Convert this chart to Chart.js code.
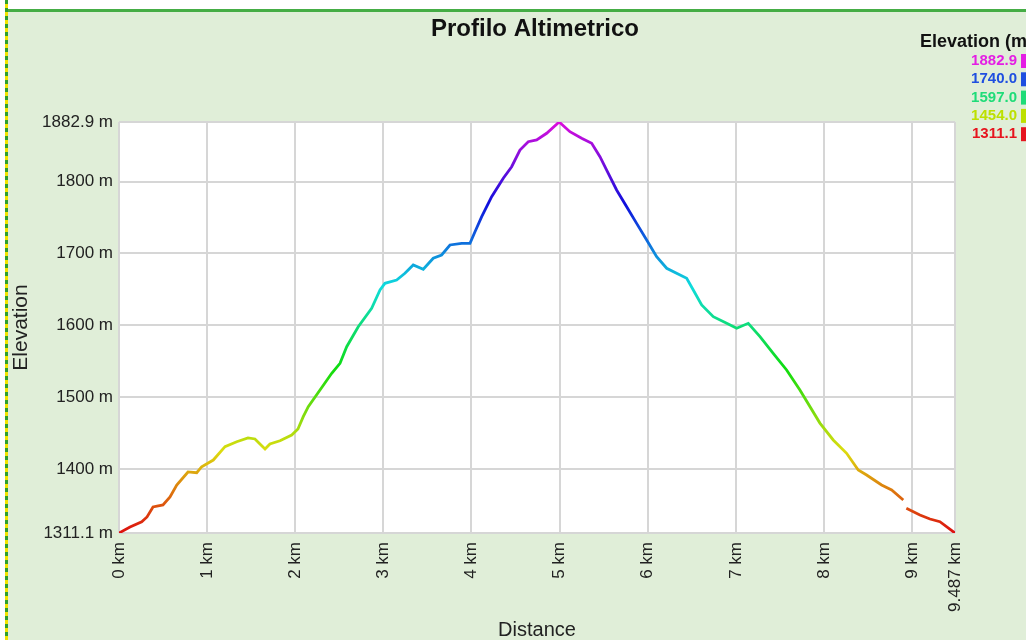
<!DOCTYPE html>
<html>
<head>
<meta charset="utf-8">
<title>Profilo Altimetrico</title>
<script src="https://cdn.jsdelivr.net/npm/chart.js@4.4.0/dist/chart.umd.min.js"></script>
<style>
  html, body { margin: 0; padding: 0; background: #fff; }
  #wrap { width: 1026px; height: 640px; }
</style>
</head>
<body>
<div id="wrap"><canvas id="profile" width="1026" height="640"></canvas></div>
<script>
// Track distance (km) and elevation (m).
const distanceKm = [
  0.000, 0.125, 0.258, 0.318, 0.386, 0.499, 0.579, 0.655, 0.783, 0.882,
  0.938, 1.070, 1.203, 1.336, 1.464, 1.543, 1.657, 1.713, 1.827, 1.960,
  2.031, 2.091, 2.148, 2.281, 2.414, 2.508, 2.584, 2.715, 2.867, 2.962,
  3.018, 3.151, 3.245, 3.339, 3.453, 3.566, 3.661, 3.756, 3.889, 3.983,
  4.040, 4.116, 4.229, 4.361, 4.456, 4.550, 4.644, 4.740, 4.853, 4.995,
  5.117, 5.250, 5.364, 5.458, 5.534, 5.647, 5.761, 5.874, 5.988, 6.101,
  6.215, 6.442, 6.517, 6.612, 6.744, 6.896, 7.009, 7.141, 7.274, 7.424,
  7.576, 7.727, 7.954, 8.105, 8.257, 8.389, 8.484, 8.654, 8.768, 8.900,
  8.918, 8.935, 9.089, 9.203, 9.316, 9.487
];
const elevationM = [
  1311.1, 1319.4, 1326.8, 1333.4, 1347.3, 1350.1, 1361.2, 1377.9, 1396.0, 1395.0,
  1403.3, 1412.6, 1431.2, 1438.1, 1443.3, 1441.9, 1428.0, 1434.9, 1439.5, 1447.4,
  1455.8, 1472.9, 1486.8, 1510.1, 1533.3, 1547.2, 1570.3, 1598.1, 1623.7, 1649.2,
  1658.5, 1663.1, 1672.4, 1684.0, 1678.0, 1693.3, 1697.9, 1711.8, 1714.1, 1714.1,
  1730.3, 1751.2, 1779.0, 1804.6, 1820.7, 1843.9, 1855.5, 1857.9, 1867.2, 1882.9,
  1869.4, 1860.2, 1853.3, 1834.6, 1816.1, 1788.3, 1765.1, 1741.9, 1718.7, 1695.5,
  1679.4, 1665.4, 1649.2, 1628.3, 1612.0, 1602.8, 1595.9, 1602.8, 1584.2, 1561.1,
  1537.9, 1510.0, 1464.0, 1440.5, 1422.0, 1398.8, 1391.8, 1377.9, 1370.9, 1357.0,
  null,   1345.5, 1336.2, 1330.6, 1326.8, 1311.1
];

const xTicks = [0, 1, 2, 3, 4, 5, 6, 7, 8, 9, 9.487];
const yTicks = [1311.1, 1400, 1500, 1600, 1700, 1800, 1882.9];

// Colour legend on the right (elevation classes), clipped by the page edge.
const legendTitle = 'Elevation (m)';
const legendValues = ['1882.9', '1740.0', '1597.0', '1454.0', '1311.1'];
const legendColors = ['#e41ee4', '#1f4fe0', '#1fdc78', '#bde000', '#e6141e'];

const FONT = "'Liberation Sans', Arial, sans-serif";
const yMin = yTicks[0], yMax = yTicks[yTicks.length - 1];

// Elevation -> hue gradient (red low, magenta high).
function elevationGradient(chart) {
  const { chartArea, scales } = chart;
  if (!chartArea) return '#e6141e';
  const y = scales.y;
  const g = chart.ctx.createLinearGradient(0, y.getPixelForValue(yMin), 0, y.getPixelForValue(yMax));
  for (let i = 0; i <= 20; i++) {
    g.addColorStop(i / 20, `hsl(${i * 15}, 88%, 46%)`);
  }
  return g;
}

// Page frame, plot background, title and the legend.
const decor = {
  id: 'decor',
  beforeDraw(chart) {
    const c = chart.ctx, W = chart.width, H = chart.height, a = chart.chartArea;
    c.save();
    c.fillStyle = '#ffffff';
    c.fillRect(0, 0, W, H);
    c.fillStyle = '#e0eed8';
    c.fillRect(8, 11, W - 8, H - 11);
    c.fillStyle = '#45ad45';
    c.fillRect(8, 9, W - 8, 3);
    for (let y = 0; y < H; y += 8) {
      c.fillStyle = '#2f9e2f';
      c.fillRect(5, y, 3, 4);
      c.fillStyle = '#f2e400';
      c.fillRect(5, y + 4, 3, 4);
    }
    c.fillStyle = '#ffffff';
    c.fillRect(a.left, a.top, a.right - a.left, a.bottom - a.top);
    c.restore();
  },
  afterDraw(chart) {
    const c = chart.ctx;
    c.save();
    c.fillStyle = '#111';
    c.textBaseline = 'middle';
    c.textAlign = 'center';
    c.font = `bold 24px ${FONT}`;
    c.fillText('Profilo Altimetrico', 535, 29);

    c.textAlign = 'left';
    c.font = `bold 18px ${FONT}`;
    c.fillText(legendTitle, 920, 42);
    c.textAlign = 'right';
    c.font = `bold 15px ${FONT}`;
    legendValues.forEach((v, i) => {
      const y = 61 + i * 18.3;
      c.fillStyle = legendColors[i];
      c.fillText(v, 1017, y);
      c.fillRect(1021, y - 7, 6, 14);
    });
    c.restore();
  }
};

const grid = { color: '#d6d6d6', lineWidth: 2, drawTicks: false };

new Chart(document.getElementById('profile'), {
  type: 'line',
  data: {
    datasets: [{
      label: 'Elevation',
      data: distanceKm.map((d, i) => ({ x: d, y: elevationM[i] })),
      borderColor: (ctx) => elevationGradient(ctx.chart),
      borderWidth: 2.8,
      pointRadius: 0,
      tension: 0,
      spanGaps: false,
      fill: false,
    }]
  },
  options: {
    responsive: false,
    animation: false,
    layout: { padding: { top: 122, right: 71, left: 8, bottom: 0 } },
    plugins: {
      legend: { display: false },
      title: { display: false },
      tooltip: { enabled: false },
    },
    scales: {
      x: {
        type: 'linear',
        min: 0,
        max: xTicks[xTicks.length - 1],
        afterBuildTicks: (s) => { s.ticks = xTicks.map(v => ({ value: v })); },
        afterFit: (s) => { s.height = 107; },
        grid,
        border: { display: false },
        ticks: {
          color: '#222',
          font: { family: FONT, size: 17 },
          padding: 9,
          minRotation: 90,
          maxRotation: 90,
          autoSkip: false,
          callback: (v) => v + ' km',
        },
        title: {
          display: true,
          text: 'Distance',
          color: '#222',
          font: { family: FONT, size: 20 },
          padding: { top: 0, bottom: -2 },
        },
      },
      y: {
        min: yMin,
        max: yMax,
        afterBuildTicks: (s) => { s.ticks = yTicks.map(v => ({ value: v })); },
        afterFit: (s) => { s.width = 111; },
        grid,
        border: { display: false },
        ticks: {
          color: '#222',
          font: { family: FONT, size: 17 },
          padding: 6,
          autoSkip: false,
          callback: (v) => v + ' m',
        },
        title: {
          display: true,
          text: 'Elevation',
          color: '#222',
          font: { family: FONT, size: 21 },
          padding: { top: 1, bottom: 0 },
        },
      },
    },
  },
  plugins: [decor],
});
</script>
</body>
</html>
